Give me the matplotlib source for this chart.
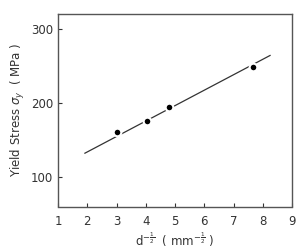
import numpy as np
import matplotlib.pyplot as plt

# measured points
d_inv_sqrt = [3.0, 4.05, 4.8, 7.65]
yield_stress = [160, 175, 194, 248]

# fitted Hall-Petch line
fit_x = [1.92, 8.25]
fit_y = [132, 264]

fig = plt.figure(figsize=(3.07, 2.48), dpi=100)
ax = fig.add_axes([58/307, 1 - 206.5/248, 234/307, 192.5/248])

ax.plot(fit_x, fit_y, color="#333333", lw=0.9, zorder=1)
ax.plot(d_inv_sqrt, yield_stress, "o", color="black", ms=5.5,
        mec="white", mew=1.5, zorder=2)

ax.set_xlim(1, 9)
ax.set_ylim(60, 320)
ax.set_xticks(range(1, 10))
ax.set_yticks([100, 200, 300])
ax.tick_params(direction="in", length=3, labelsize=8.5, colors="#333333",
               width=0.8)
ax.tick_params(axis="x", pad=6)
for s in ax.spines.values():
    s.set_color("#555555")
    s.set_linewidth(1.0)

ax.set_xlabel(r"d$^{-\frac{1}{2}}$  ( mm$^{-\frac{1}{2}}$ )", fontsize=8.5,
              color="#333333", labelpad=2)
ax.set_ylabel(r"Yield Stress $\sigma_y$  ( MPa )", fontsize=8.5,
              color="#333333", labelpad=3)

fig.savefig("out.png", dpi=100)
